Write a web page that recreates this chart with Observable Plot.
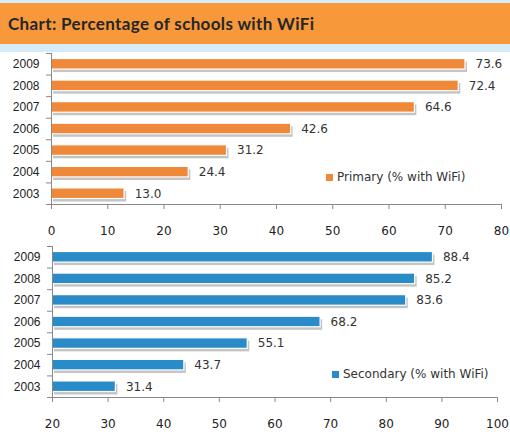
<!DOCTYPE html>
<html>
<head>
<meta charset="utf-8">
<script src="https://cdn.jsdelivr.net/npm/d3@7"></script>
<script src="https://cdn.jsdelivr.net/npm/@observablehq/plot@0.6"></script>
<style>
  html, body { margin: 0; padding: 0; background: #fff; }
  #wrap { position: relative; width: 510px; height: 432px; background: #fff; overflow: hidden; }
  .strip { background: #d5ebf7; }
  #title { height: 41px; background: #f7993b; color: #262626; font-family: Lato, "Open Sans", sans-serif; font-weight: bold; font-size: 17px; letter-spacing: 0.35px; line-height: 41px; padding-left: 8px; box-sizing: border-box; }
  .chart { position: relative; }
  .chart svg { display: block; }
  .legend { position: absolute; font-family: "DejaVu Sans", sans-serif; font-size: 12px; color: #333; white-space: nowrap; display: flex; align-items: center; }
  .legend .sw { display: inline-block; width: 7px; height: 7px; margin-right: 4px; }
</style>
</head>
<body>
<div id="wrap">
  <div class="strip" style="height:3px"></div>
  <div id="title">Chart: Percentage of schools with WiFi</div>
  <div class="strip" style="height:8px"></div>
  <div class="chart" id="c1" style="height:188px"></div>
  <div class="chart" id="c2" style="height:192px"></div>
</div>
<script>
const years = [2003, 2004, 2005, 2006, 2007, 2008, 2009];
const primary = [13.0, 24.4, 31.2, 42.6, 64.6, 72.4, 73.6];
const secondary = [31.4, 43.7, 55.1, 68.2, 83.6, 85.2, 88.4];
const primaryTicks = [0, 10, 20, 30, 40, 50, 60, 70, 80];
const secondaryTicks = [20, 30, 40, 50, 60, 70, 80, 90, 100];
const primaryLabel = "Primary (% with WiFi)";
const secondaryLabel = "Secondary (% with WiFi)";
const primaryColor = "#f0883a";
const secondaryColor = "#2a8bc9";

function chart(values, color, xTicks, m) {
  const data = years.map((y, i) => ({year: y, v: values[i]}));
  const x0 = xTicks[0];
  const bounds = d3.range(years[0] - 0.5, years[years.length - 1] + 1, 1);
  return Plot.plot({
    width: 510,
    height: m.height,
    marginLeft: m.left,
    marginRight: m.right,
    marginTop: m.top,
    marginBottom: m.bottom,
    x: {domain: [x0, xTicks[xTicks.length - 1]], label: null},
    y: {domain: [years[0] - 0.5, years[years.length - 1] + 0.5], label: null},
    style: {fontFamily: "DejaVu Sans, sans-serif", fontSize: "12px", color: "#222", background: "transparent", overflow: "visible"},
    marks: [
      Plot.rectX(data, {x1: () => x0, x2: "v", y1: d => d.year - 0.5, y2: d => d.year + 0.5, insetTop: 5.5, insetBottom: 5.5, fill: "#c4c4c4", dx: 2, dy: 3}),
      Plot.rectX(data, {x1: () => x0, x2: "v", y1: d => d.year - 0.5, y2: d => d.year + 0.5, insetTop: 5.5, insetBottom: 5.5, fill: color, stroke: "white", strokeWidth: 1.2}),
      Plot.text(data, {x: "v", y: "year", text: d => d.v.toFixed(1), textAnchor: "start", dx: 10, fill: "#333", fontSize: 12}),
      Plot.ruleX([x0], {stroke: "#888"}),
      Plot.ruleY([years[0] - 0.5], {stroke: "#888"}),
      Plot.axisX({ticks: xTicks, tickSize: 5, tickPadding: 17, stroke: "#888", fill: "#222", label: null, tickFormat: d => String(d)}),
      Plot.axisY({ticks: bounds, tickSize: 5, stroke: "#888", label: null, tickFormat: () => ""}),
      Plot.axisY({ticks: years, tickSize: 0, tickPadding: 12, fill: "#222", label: null, fontFamily: "Liberation Sans, Arial, sans-serif", fontSize: 12, tickFormat: d => String(d)})
    ]
  });
}

function legend(label, color, left, top) {
  const div = document.createElement("div");
  div.className = "legend";
  div.style.left = left + "px";
  div.style.top = top + "px";
  const sw = document.createElement("span");
  sw.className = "sw";
  sw.style.background = color;
  const t = document.createElement("span");
  t.textContent = label;
  div.appendChild(sw);
  div.appendChild(t);
  return div;
}

const c1 = document.getElementById("c1");
c1.appendChild(chart(primary, primaryColor, primaryTicks, {height: 188, left: 51, right: 9, top: 1, bottom: 36}));
c1.appendChild(legend(primaryLabel, primaryColor, 326, 118));

const c2 = document.getElementById("c2");
c2.appendChild(chart(secondary, secondaryColor, secondaryTicks, {height: 192, left: 52, right: 13, top: 6, bottom: 35}));
c2.appendChild(legend(secondaryLabel, secondaryColor, 332, 127));
</script>
</body>
</html>
